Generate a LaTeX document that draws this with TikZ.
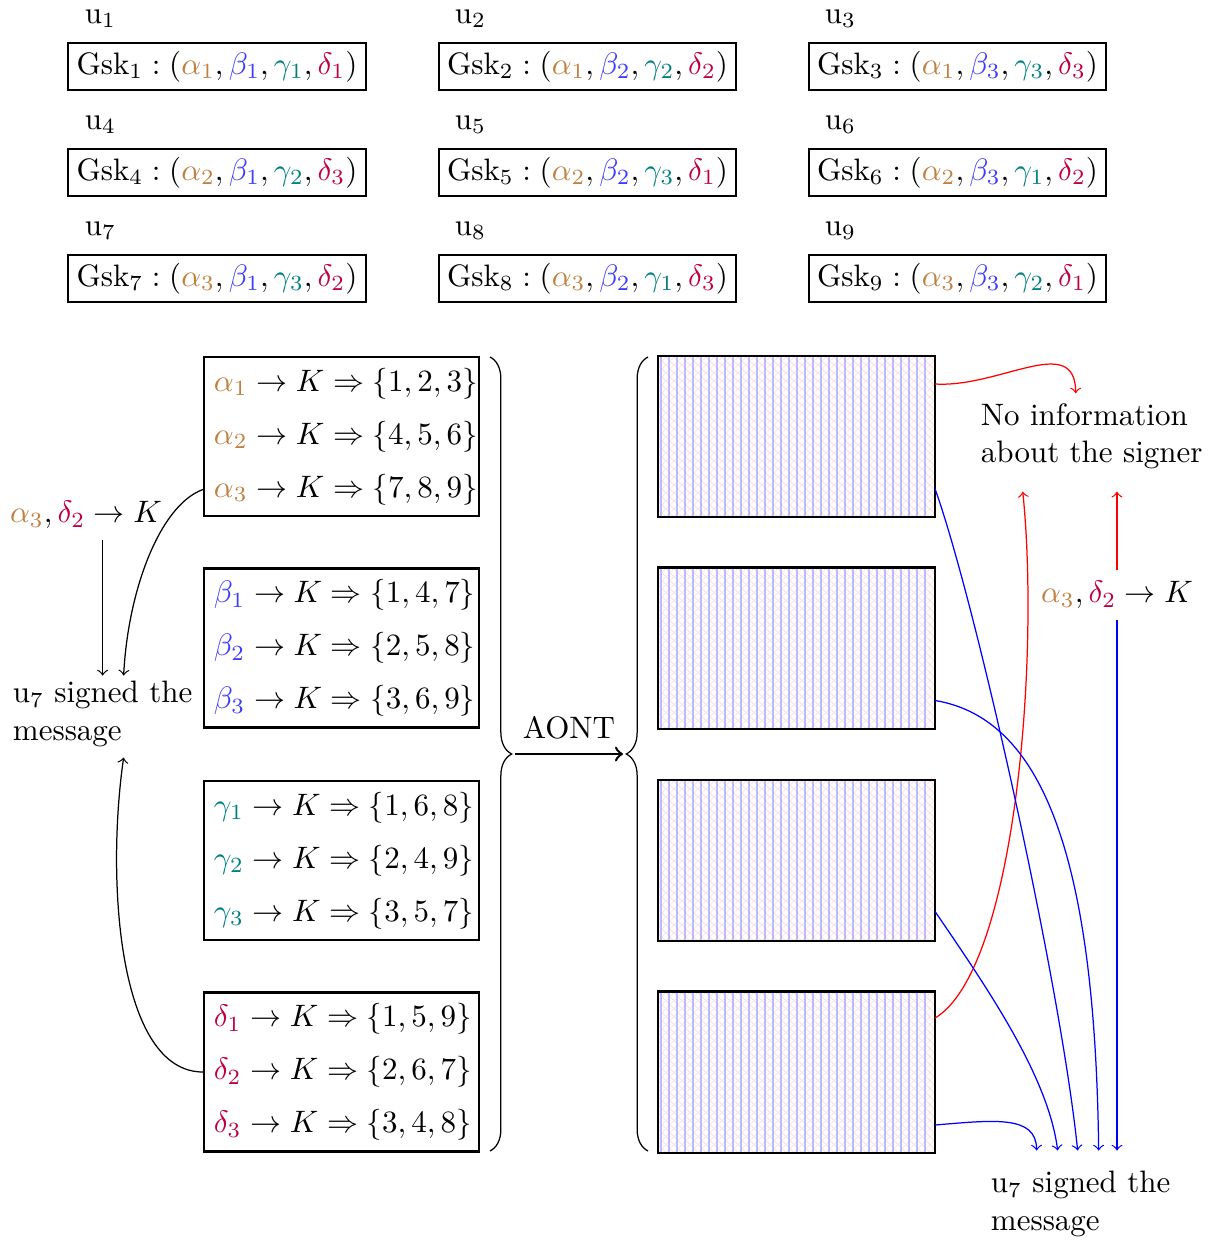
\documentclass[tikz,border=0pt]{standalone}
\usetikzlibrary{calc,decorations.pathreplacing}
\definecolor{ca}{RGB}{191,128,64}
\definecolor{cb}{RGB}{60,60,255}
\definecolor{cg}{RGB}{0,128,128}
\definecolor{cd}{RGB}{191,0,64}
\newcommand{\myA}[1]{{\color{ca}\alpha_{#1}}}
\newcommand{\myB}[1]{{\color{cb}\beta_{#1}}}
\newcommand{\myG}[1]{{\color{cg}\gamma_{#1}}}
\newcommand{\myD}[1]{{\color{cd}\delta_{#1}}}
\newcommand{\gsk}[5]{$\mathrm{Gsk}_{#1} : (\myA{#2}, \myB{#3}, \myG{#4}, \myD{#5})$}
\newcommand{\hatchbox}[1]{%
  \begin{scope}
    \clip (#1.south west) rectangle (#1.north east);
    \foreach \k in {-25,...,60} {
      \draw[red!15, line width=0.2pt] ($(#1.south west)+(\k*8,0)$) -- ++(200,-200);
      \draw[red!15, line width=0.2pt] ($(#1.south west)+(\k*8,0)$) -- ++(-200,-200);
    }
    \foreach \k in {0,...,33} {
      \draw[blue!27, line width=0.45pt] ($(#1.north west)+(3+\k*8,0)$) -- ($(#1.south west)+(3+\k*8,0)$);
    }
  \end{scope}
  \draw[line width=0.7pt] (#1.south west) rectangle (#1.north east);
}
\begin{document}
\begin{tikzpicture}[x=0.3226pt,y=-0.3226pt,
  gbox/.style={draw, line width=0.7pt, inner sep=2.7pt},
  ulabel/.style={anchor=west},
  lbox/.style={draw, line width=0.7pt, minimum width=275*0.3226pt, minimum height=159*0.3226pt, inner sep=0pt},
  hbox/.style={lbox, draw=none},
  row/.style={anchor=west},
  txt/.style={anchor=west, align=left},
  brc/.style={decorate, decoration={brace, amplitude=7pt}}
]
\useasboundingbox (0,0) rectangle (1214,1241);

% top grid
\node[ulabel] (u1) at (74,19) {$\mathrm{u}_1$};
\node[ulabel] (u2) at (444,19) {$\mathrm{u}_2$};
\node[ulabel] (u3) at (814,19) {$\mathrm{u}_3$};
\node[ulabel] (u4) at (74,125) {$\mathrm{u}_4$};
\node[ulabel] (u5) at (444,125) {$\mathrm{u}_5$};
\node[ulabel] (u6) at (814,125) {$\mathrm{u}_6$};
\node[ulabel] (u7) at (74,231) {$\mathrm{u}_7$};
\node[ulabel] (u8) at (444,231) {$\mathrm{u}_8$};
\node[ulabel] (u9) at (814,231) {$\mathrm{u}_9$};

\node[gbox] (g1) at (217,66.5) {\gsk{1}{1}{1}{1}{1}};
\node[gbox] (g2) at (587.5,66.5) {\gsk{2}{1}{2}{2}{2}};
\node[gbox] (g3) at (957.5,66.5) {\gsk{3}{1}{3}{3}{3}};
\node[gbox] (g4) at (217,172.5) {\gsk{4}{2}{1}{2}{3}};
\node[gbox] (g5) at (587.5,172.5) {\gsk{5}{2}{2}{3}{1}};
\node[gbox] (g6) at (957.5,172.5) {\gsk{6}{2}{3}{1}{2}};
\node[gbox] (g7) at (217,278.5) {\gsk{7}{3}{1}{3}{2}};
\node[gbox] (g8) at (587.5,278.5) {\gsk{8}{3}{2}{1}{3}};
\node[gbox] (g9) at (957.5,278.5) {\gsk{9}{3}{3}{2}{1}};

% left boxes
\node[lbox] (LA) at (341.5,436.5) {};
\node[lbox] (LB) at (341.5,648) {};
\node[lbox] (LC) at (341.5,860.5) {};
\node[lbox] (LD) at (341.5,1072) {};

\node[row] (a1) at (203,383.5) {$\myA1 \to K \Rightarrow \{1,2,3\}$};
\node[row] (a2) at (203,436.5) {$\myA2 \to K \Rightarrow \{4,5,6\}$};
\node[row] (a3) at (203,489.5) {$\myA3 \to K \Rightarrow \{7,8,9\}$};
\node[row] (b1) at (203,595) {$\myB1 \to K \Rightarrow \{1,4,7\}$};
\node[row] (b2) at (203,648) {$\myB2 \to K \Rightarrow \{2,5,8\}$};
\node[row] (b3) at (203,701) {$\myB3 \to K \Rightarrow \{3,6,9\}$};
\node[row] (c1) at (203,807.5) {$\myG1 \to K \Rightarrow \{1,6,8\}$};
\node[row] (c2) at (203,860.5) {$\myG2 \to K \Rightarrow \{2,4,9\}$};
\node[row] (c3) at (203,913.5) {$\myG3 \to K \Rightarrow \{3,5,7\}$};
\node[row] (d1) at (203,1019) {$\myD1 \to K \Rightarrow \{1,5,9\}$};
\node[row] (d2) at (203,1072) {$\myD2 \to K \Rightarrow \{2,6,7\}$};
\node[row] (d3) at (203,1125) {$\myD3 \to K \Rightarrow \{3,4,8\}$};

% right hatched boxes
\node[hbox] (h1) at (796.5,436.5) {};
\node[hbox] (h2) at (796.5,648) {};
\node[hbox] (h3) at (796.5,860.5) {};
\node[hbox] (h4) at (796.5,1072) {};
\hatchbox{h1}
\hatchbox{h2}
\hatchbox{h3}
\hatchbox{h4}

% braces and AONT
\draw[brc] (490,357) -- (490,1151);
\draw[brc] (648,1151) -- (648,357);
\coordinate (tipL) at (515,754);
\coordinate (tipR) at (623,754);
\draw[->, thick] (tipL) -- node[above=1pt] {AONT} (tipR);

% left labels
\node (lblL) at (86,515) {$\myA3, \myD2 \to K$};
\node[txt] (msgL) at (2,714) {$\mathrm{u}_7$ signed the\\message};

\draw[->] (lblL.south -| msgL.north) -- ($(msgL.north)+(0,5)$);
\draw[->] (a3.west) .. controls (160,505) and (128,590) .. ($(msgL.north)+(21,5)$);
\draw[->] (d2.west) .. controls (118,1072) and (106,880) .. ($(msgL.south)+(21,0)$);

% right labels
\node[txt] (ni) at (970,436) {No information\\about the signer};
\node (lblR) at (1117,595) {$\myA3, \myD2 \to K$};
\node[txt] (sig) at (980,1204) {$\mathrm{u}_7$ signed the\\message};

\draw[->, red] ($(h1.east)+(0,-52.5)$) .. controls (1000,388) and (1075,332) .. ($(ni.north)+(-16,1)$);
\draw[->, red] ($(h4.east)+(0,-54)$) .. controls (1015,970) and (1040,660) .. ($(ni.south)+(-69,12)$);
\draw[->, red] (lblR.north) -- ($(lblR.north |- ni.south)+(0,12)$);
\draw[->, blue] (lblR.south) -- ($(lblR.south |- sig.north)+(0,-10)$);

\draw[->, blue] ($(h1.east)+(0,52.5)$) .. controls (975,600) and (1060,980) .. ($(sig.north)+(-3,-10)$);
\draw[->, blue] ($(h2.east)+(0,52.5)$) .. controls (1040,718) and (1095,850) .. ($(sig.north)+(18,-10)$);
\draw[->, blue] ($(h3.east)+(0,51)$) .. controls (985,985) and (1048,1075) .. ($(sig.north)+(-23,-10)$);
\draw[->, blue] ($(h4.east)+(0,53)$) .. controls (995,1120) and (1036,1115) .. ($(sig.north)+(-44,-10)$);
\end{tikzpicture}
\end{document}
